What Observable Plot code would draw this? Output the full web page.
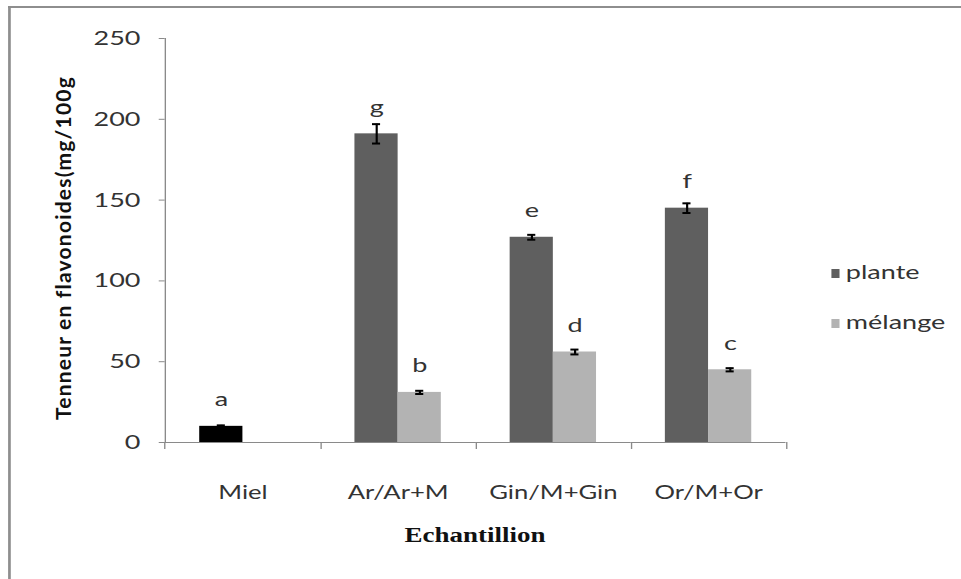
<!DOCTYPE html>
<html><head><meta charset="utf-8">
<script src="https://cdn.jsdelivr.net/npm/d3@7"></script>
<script src="https://cdn.jsdelivr.net/npm/@observablehq/plot@0.6"></script>
<style>
html,body{margin:0;padding:0;background:#fff;}
#wrap{position:relative;width:961px;height:579px;overflow:hidden;background:#fff;}
#stretch{position:absolute;left:0;top:0;width:712px;height:579px;transform:scaleX(1.3497);transform-origin:0 0;}
#border{position:absolute;left:6px;top:6px;width:800px;height:700px;border-left:2.2px solid #8e8e8e;border-top:2.6px solid #8e8e8e;}
#chart{position:absolute;left:0;top:0;}
.leg{position:absolute;left:615.5px;font:20px Lato;color:#333;line-height:20px;white-space:nowrap;}
.leg span.sw{display:inline-block;width:6.7px;height:9px;margin-right:4.5px;vertical-align:1px;}
#xtitle{position:absolute;left:351.9px;top:525px;transform:translateX(-50%);font:bold 20px "Liberation Serif";line-height:20px;color:#111;white-space:nowrap;}
#ytitle{position:absolute;left:62px;top:248px;transform:translate(-50%,-50%) rotate(-90deg);font:bold 21px Lato;letter-spacing:1.2px;color:#111;white-space:nowrap;line-height:21px;}
</style></head><body>
<div id="wrap">
  <div id="stretch">
    <div id="border"></div>
    <div id="chart"></div>
    <div id="legend"></div>
    <div id="xtitle">Echantillion</div>
  </div>
  <div id="ytitle">Tenneur en flavonoides(mg/100g</div>
</div>
<script>
const categories = ["Miel", "Ar/Ar+M", "Gin/M+Gin", "Or/M+Or"];
const series = ["plante", "mélange"];
const planteValues = [10, 191, 127, 145];
const planteErrors = [0.6, 6, 1.5, 3];
const planteLetters = ["a", "g", "e", "f"];
const melangeValues = [null, 31, 56, 45];
const melangeErrors = [null, 1, 1.5, 1];
const melangeLetters = [null, "b", "d", "c"];
const yTicks = [0, 50, 100, 150, 200, 250];

const colorKeys = ["Miel", "plante", "mélange"];
const colorRange = ["#000000", "#5f5f5f", "#b3b3b3"];
const axisColor = "#8a8a8a";

const rows = [];
categories.forEach((c, i) => {
  if (planteValues[i] != null) rows.push({cat: c, series: "plante", key: c === "Miel" ? "Miel" : "plante", value: planteValues[i], err: planteErrors[i], letter: planteLetters[i]});
  if (melangeValues[i] != null) rows.push({cat: c, series: "mélange", key: "mélange", value: melangeValues[i], err: melangeErrors[i], letter: melangeLetters[i]});
});

const W = 712, H = 579, ML = 120.4, MR = 128.2, MT = 38, MB = 137;
const bw = (W - ML - MR) / categories.length;

const chart = Plot.plot({
  width: W, height: H,
  marginLeft: ML, marginRight: MR, marginTop: MT, marginBottom: MB,
  style: {fontFamily: "Lato", fontSize: "20px", color: "#333", background: "transparent", overflow: "visible"},
  fx: {domain: categories, padding: 0, label: null},
  x: {domain: series, paddingInner: 0, paddingOuter: 0.756, axis: null},
  y: {domain: [0, 250]},
  color: {domain: colorKeys, range: colorRange},
  marks: [
    Plot.axisY({ticks: yTicks, tickSize: 4.4, tickPadding: 14, stroke: axisColor, fill: "#333", fontSize: 20, label: null}),
    Plot.frame({anchor: "left", facetAnchor: "left", stroke: axisColor}),
    Plot.ruleY([0], {stroke: axisColor}),
    Plot.axisFx({anchor: "bottom", tickSize: 0, tickPadding: 43, label: null, fontSize: 19, fill: "#333"}),
    Plot.axisFx({anchor: "bottom", tickSize: 7, dx: bw / 2, tickFormat: () => "", label: null, stroke: axisColor}),
    Plot.axisFx({anchor: "bottom", ticks: [categories[0]], tickSize: 7, dx: -bw / 2, tickFormat: () => "", label: null, stroke: axisColor}),
    Plot.barY(rows, {fx: "cat", x: "series", y: "value", fill: "key"}),
    Plot.ruleX(rows, {fx: "cat", x: "series", y1: d => d.value - d.err, y2: d => d.value + d.err, stroke: "#000", strokeWidth: 1.6}),
    Plot.tickY(rows, {fx: "cat", x: "series", y: d => d.value + d.err, insetLeft: 13, insetRight: 13, stroke: "#000", strokeWidth: 2}),
    Plot.tickY(rows, {fx: "cat", x: "series", y: d => d.value - d.err, insetLeft: 13, insetRight: 13, stroke: "#000", strokeWidth: 2}),
    Plot.text(rows, {fx: "cat", x: "series", y: "value", text: "letter", dy: -20, lineAnchor: "bottom", fontSize: 20, fill: "#333"})
  ]
});
document.getElementById("chart").appendChild(chart);

const legendTops = [261, 311];
const legend = document.getElementById("legend");
series.forEach((s, i) => {
  const d = document.createElement("div");
  d.className = "leg";
  d.style.top = legendTops[i] + "px";
  const sw = document.createElement("span");
  sw.className = "sw";
  sw.style.background = colorRange[colorKeys.indexOf(s)];
  d.appendChild(sw);
  d.appendChild(document.createTextNode(s));
  legend.appendChild(d);
});
</script>
</body></html>
